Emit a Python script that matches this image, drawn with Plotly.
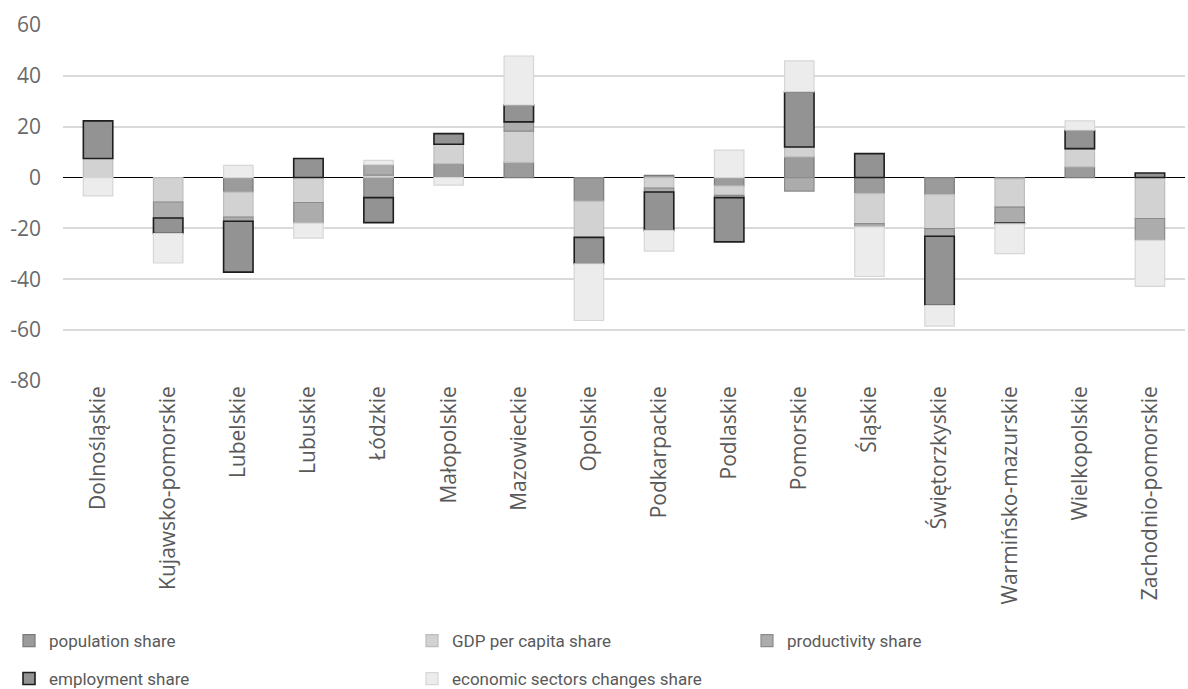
import plotly.graph_objects as go

regions = ["Dolnośląskie", "Kujawsko-pomorskie", "Lubelskie", "Lubuskie", "Łódzkie",
           "Małopolskie", "Mazowieckie", "Opolskie", "Podkarpackie", "Podlaskie",
           "Pomorskie", "Śląskie", "Świętorzkyskie", "Warmińsko-mazurskie",
           "Wielkopolskie", "Zachodnio-pomorskie"]

population_share = [0.0, 0.0, -5.7, 0.0, -7.9, 5.5, 6.0, -9.3, 0.9, -3.3, 8.1, -6.3, -6.7, -0.5, 4.2, 0.0]
gdp_per_capita_share = [7.5, -9.6, -9.8, -9.8, 1.0, 7.6, 12.3, -14.2, -4.1, -3.7, 3.9, -11.8, -13.4, -11.1, 7.2, -16.1]
productivity_share = [0.0, -6.3, -1.7, -8.1, 4.1, 0.0, 3.6, 0.0, -1.6, -0.9, -5.3, -1.3, -3.0, -6.3, 0.0, -8.6]
employment_share = [14.8, -6.1, -20.0, 7.5, -9.8, 4.2, 6.6, -10.4, -15.1, -17.4, 21.7, 9.4, -27.2, -0.3, 7.2, 1.8]
econ_sectors_share = [-7.2, -11.6, 4.8, -5.9, 1.7, -3.0, 19.3, -22.3, -8.1, 10.8, 12.2, -19.5, -8.1, -11.7, 3.7, -18.1]

y_tick_values = [60, 40, 20, 0, -20, -40, -60, -80]
y_tick_labels = ["60", "40", "20", "0", "-20", "-40", "-60", "-80"]

series = [
    ("population share", population_share, "#9b9b9b", "#7a7a7a", 1.2, "legend"),
    ("GDP per capita share", gdp_per_capita_share, "#d2d2d2", "#bdbdbd", 1.2, "legend"),
    ("productivity share", productivity_share, "#acacac", "#8c8c8c", 1.2, "legend3"),
    ("employment share", employment_share, "#939393", "#1e1e1e", 1.6, "legend2"),
    ("economic sectors changes share", econ_sectors_share, "#ececec", "#d6d6d6", 1.2, "legend2"),
]

fig = go.Figure()
for name, vals, fill, line, lw, lg in series:
    fig.add_trace(go.Bar(
        x=regions, y=vals, name=name, legend=lg,
        marker=dict(color=fill, line=dict(color=line, width=lw)),
    ))

legend_font = dict(family="Liberation Sans Narrow, Roboto, sans-serif", size=17, color="#595959")
common_legend = dict(
    orientation="h", xanchor="left", yanchor="middle",
    xref="container", yref="container",
    entrywidth=358, entrywidthmode="pixels",
    font=legend_font, traceorder="normal", itemwidth=30,
    bgcolor="rgba(0,0,0,0)",
)

fig.update_layout(
    width=1188, height=689,
    barmode="relative",
    bargap=0.58,
    paper_bgcolor="white", plot_bgcolor="white",
    margin=dict(l=63, r=3, t=25, b=308),
    font=dict(family="Open Sans", color="#595959", size=20),
    showlegend=True,
    legend=dict(common_legend, x=9 / 1188, y=1 - 641 / 689),
    legend2=dict(common_legend, x=9 / 1188, y=1 - 679 / 689),
    legend3=dict(common_legend, x=747 / 1188, y=1 - 641 / 689),
)
fig.update_xaxes(
    tickangle=-90, showgrid=False, showline=False, ticks="",
    automargin=False,
    tickfont=dict(family="Open Sans", size=21, color="#595959"),
)
fig.update_yaxes(
    range=[-80, 60], tickmode="array", tickvals=y_tick_values, ticktext=y_tick_labels,
    showgrid=True, gridcolor="#d9d9d9", gridwidth=1.5,
    zeroline=True, zerolinecolor="#000000", zerolinewidth=1,
    showline=False, ticks="", automargin=False,
    ticklabelstandoff=21,
    tickfont=dict(family="Open Sans", size=21, color="#6a6a6a"),
)

fig.write_html("out.html")
